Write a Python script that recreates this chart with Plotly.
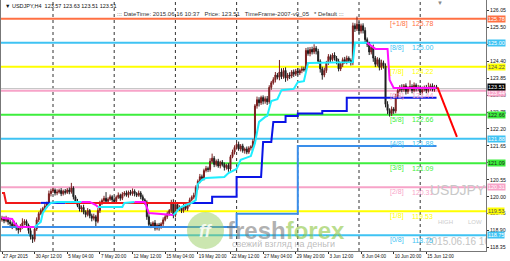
import plotly.graph_objects as go

# ---------------- data ----------------
first_open = 119.25
closes = [
    119.30, 119.22, 119.28, 119.18, 119.12, 119.05, 119.10, 118.98, 118.92, 119.02,
    119.15, 119.20, 119.08, 118.90, 118.70, 118.62, 118.95, 119.25, 119.45, 119.55,
    119.62, 119.70, 119.78, 120.10, 120.18, 120.22, 120.12, 120.15, 120.20, 120.10,
    120.18, 120.14, 120.22, 120.16, 120.28, 120.00, 119.85, 119.72, 119.60, 119.65,
    119.50, 119.42, 119.55, 119.38, 119.30, 119.35, 119.20, 119.55, 119.80, 119.88,
    119.95, 119.85, 119.92, 120.00, 119.90, 119.85, 119.98, 120.05, 119.95, 120.08,
    120.12, 120.05, 120.15, 120.10, 120.18, 120.10, 120.05, 120.12, 120.00, 119.90,
    119.82, 119.35, 119.10, 119.05, 119.15, 118.98, 119.08, 119.02, 119.12, 119.25,
    119.35, 119.45, 119.55, 119.80, 119.40, 119.75, 119.60, 119.65, 119.55, 119.70,
    119.62, 119.75, 119.90, 119.98, 120.05, 120.30, 120.50, 120.65, 120.60, 120.85,
    120.92, 120.88, 121.15, 121.25, 121.05, 121.15, 121.00, 121.12, 121.05, 120.95,
    121.02, 120.90, 121.30, 121.45, 121.60, 121.70, 121.55, 121.65, 121.50, 121.55,
    121.45, 121.58, 121.62, 121.80, 122.95, 123.15, 123.05, 123.22, 123.10, 123.18,
    123.08, 123.55, 123.70, 123.80, 123.95, 123.88, 124.05, 123.90, 124.10, 123.85,
    123.95, 123.92, 124.05, 123.98, 124.08, 124.02, 124.10, 124.15, 124.12, 124.75,
    124.65, 124.78, 124.70, 124.82, 124.72, 124.40, 124.15, 123.95, 124.10, 124.35,
    124.55, 124.45, 124.60, 124.50, 124.40, 124.15, 124.30, 124.45, 124.38, 124.50,
    124.42, 124.35, 125.55, 125.45, 125.60, 125.38, 125.55, 125.40, 125.10, 124.95,
    124.70, 124.85, 124.50, 124.30, 124.45, 124.20, 124.35, 124.25, 123.00, 122.80,
    122.70, 122.85, 122.78, 123.25, 123.45, 123.55, 123.48, 123.60, 123.42, 123.52,
    123.58, 123.45, 123.62, 123.50, 123.55, 123.40, 123.48, 123.55, 123.45, 123.52,
    123.60, 123.48, 123.57, 123.51,
]
up_wick = [
    0.08, 0.06, 0.10, 0.05, 0.07, 0.08, 0.12, 0.06, 0.05, 0.09,
    0.15, 0.07, 0.06, 0.05, 0.08, 0.06, 0.10, 0.08, 0.06, 0.07,
    0.05, 0.08, 0.06, 0.10, 0.08, 0.07, 0.05, 0.09, 0.06, 0.08,
    0.05, 0.07, 0.06, 0.08, 0.17, 0.06, 0.05, 0.08, 0.06, 0.07,
    0.09, 0.06, 0.08, 0.05, 0.07, 0.10, 0.06, 0.08, 0.07, 0.06,
    0.08, 0.20, 0.06, 0.07, 0.05, 0.08, 0.06, 0.09, 0.05, 0.07,
    0.06, 0.08, 0.05, 0.07, 0.09, 0.06, 0.05, 0.08, 0.06, 0.07,
    0.05, 0.06, 0.08, 0.07, 0.05, 0.09, 0.06, 0.07, 0.05, 0.08,
    0.06, 0.07, 0.05, 0.10, 0.12, 0.08, 0.06, 0.07, 0.05, 0.08,
    0.06, 0.05, 0.07, 0.06, 0.08, 0.07, 0.06, 0.09, 0.07, 0.06,
    0.08, 0.06, 0.10, 0.15, 0.07, 0.06, 0.08, 0.05, 0.07, 0.06,
    0.05, 0.07, 0.06, 0.08, 0.07, 0.05, 0.09, 0.06, 0.07, 0.05,
    0.08, 0.06, 0.05, 0.07, 0.06, 0.10, 0.08, 0.06, 0.07, 0.08,
    0.09, 0.07, 0.06, 0.08, 0.10, 0.07, 0.39, 0.12, 0.08, 0.10,
    0.07, 0.09, 0.06, 0.08, 0.07, 0.10, 0.06, 0.08, 0.07, 0.08,
    0.10, 0.08, 0.09, 0.13, 0.07, 0.08, 0.06, 0.07, 0.09, 0.06,
    0.08, 0.07, 0.06, 0.09, 0.07, 0.08, 0.06, 0.07, 0.09, 0.08,
    0.06, 0.07, 0.10, 0.08, 0.25, 0.09, 0.07, 0.08, 0.10, 0.07,
    0.08, 0.06, 0.09, 0.07, 0.08, 0.06, 0.10, 0.07, 0.08, 0.10,
    0.07, 0.08, 0.06, 0.09, 0.08, 0.07, 0.10, 0.06, 0.08, 0.07,
    0.20, 0.07, 0.09, 0.06, 0.08, 0.07, 0.10, 0.06, 0.08, 0.18,
    0.07, 0.08, 0.06, 0.06,
]
low_wick = [
    0.06, 0.08, 0.05, 0.09, 0.07, 0.10, 0.06, 0.08, 0.12, 0.07,
    0.06, 0.08, 0.07, 0.10, 0.09, 0.12, 0.08, 0.06, 0.07, 0.05,
    0.08, 0.06, 0.07, 0.05, 0.09, 0.06, 0.08, 0.07, 0.05, 0.08,
    0.06, 0.07, 0.05, 0.08, 0.06, 0.09, 0.07, 0.06, 0.08, 0.10,
    0.07, 0.09, 0.06, 0.08, 0.10, 0.07, 0.20, 0.06, 0.08, 0.07,
    0.06, 0.08, 0.07, 0.05, 0.09, 0.06, 0.07, 0.05, 0.08, 0.06,
    0.07, 0.05, 0.08, 0.06, 0.07, 0.09, 0.06, 0.05, 0.08, 0.07,
    0.08, 0.10, 0.09, 0.07, 0.06, 0.08, 0.07, 0.12, 0.06, 0.07,
    0.05, 0.07, 0.06, 0.08, 0.10, 0.07, 0.09, 0.06, 0.08, 0.07,
    0.06, 0.08, 0.07, 0.05, 0.06, 0.08, 0.07, 0.06, 0.09, 0.07,
    0.06, 0.08, 0.07, 0.06, 0.09, 0.07, 0.06, 0.08, 0.07, 0.10,
    0.07, 0.09, 0.06, 0.05, 0.08, 0.07, 0.06, 0.08, 0.07, 0.10,
    0.07, 0.06, 0.08, 0.05, 0.07, 0.09, 0.12, 0.07, 0.10, 0.08,
    0.10, 0.07, 0.08, 0.06, 0.09, 0.07, 0.10, 0.08, 0.07, 0.12,
    0.08, 0.10, 0.07, 0.09, 0.06, 0.08, 0.07, 0.09, 0.06, 0.08,
    0.07, 0.09, 0.08, 0.07, 0.10, 0.08, 0.12, 0.15, 0.07, 0.08,
    0.07, 0.09, 0.06, 0.08, 0.10, 0.08, 0.07, 0.09, 0.06, 0.08,
    0.07, 0.09, 0.08, 0.10, 0.07, 0.09, 0.08, 0.10, 0.12, 0.09,
    0.10, 0.08, 0.12, 0.09, 0.07, 0.10, 0.08, 0.09, 0.10, 0.12,
    0.10, 0.08, 0.09, 0.07, 0.08, 0.06, 0.09, 0.07, 0.10, 0.08,
    0.07, 0.09, 0.06, 0.08, 0.07, 0.10, 0.08, 0.06, 0.09, 0.07,
    0.08, 0.06, 0.07, 0.00,
]

x_label_bars = [0, 16, 32, 48, 64, 80, 96, 112, 128, 144, 160, 176, 192, 208]
x_labels = ["27 Apr 2015", "30 Apr 12:00", "5 May 04:00", "7 May 20:00",
            "12 May 12:00", "15 May 04:00", "19 May 20:00", "22 May 12:00",
            "27 May 04:00", "29 May 20:00", "3 Jun 12:00", "8 Jun 04:00",
            "10 Jun 20:00", "15 Jun 12:00"]
y_ticks = [126.05, 125.50, 124.95, 124.40, 123.85, 123.30, 122.75, 122.20,
           121.65, 121.10, 120.55, 120.00, 119.45, 118.90, 118.35]
y_tick_hidden = [124.95, 121.10]   # covered by level boxes in the original
grid_bars = [25, 55, 85, 115, 145, 175, 205]

murrey_names = ["[+1/8]", "[8/8]", "[7/8]", "[6/8]", "[5/8]",
                "[4/8]", "[3/8]", "[2/8]", "[1/8]", "[0/8]"]
murrey_values = [125.78, 125.00, 124.22, 123.44, 122.66,
                 121.88, 121.09, 120.31, 119.53, 118.75]

# fast trailing line (1 = up/cyan, 0 = down/magenta), flag = colour of segment ending at vertex
fast_bars = [0, 5, 6, 8, 16,
             19, 20, 22, 24, 27, 39,
             43, 46, 47,
             59, 60, 65,
             70, 72, 84,
             85, 87, 90, 93, 95, 96, 98, 100, 109, 111, 115, 117, 122, 124, 126, 129,
             130, 132, 135, 137, 143, 145, 148, 150, 172, 173, 179,
             183, 189, 190, 192, 213]
fast_prices = [119.31, 119.28, 119.15, 119.02, 119.02,
               119.18, 119.47, 119.67, 119.80, 119.83, 119.83,
               119.83, 119.73, 119.67,
               119.67, 119.80, 119.83,
               119.83, 119.47, 119.41,
               119.47, 119.63, 119.73, 119.80, 119.89, 120.41, 120.54, 120.61, 120.64,
               120.77, 120.90, 121.20, 121.32, 121.74, 122.43, 122.59,
               122.62, 123.11, 123.17, 123.46, 123.50, 123.72, 123.75, 124.34, 124.37,
               125.00, 125.00,
               124.80, 124.80, 123.79, 123.53, 123.53]
fast_up = [0, 0, 0, 0, 0,
           1, 1, 1, 1, 1, 1,
           0, 0, 0,
           1, 1, 1,
           0, 0, 0,
           1, 1, 1, 1, 1, 1, 1, 1, 1, 1, 1, 1, 1, 1, 1, 1,
           1, 1, 1, 1, 1, 1, 1, 1, 1, 1, 1,
           0, 0, 0, 0, 0]

# slow trailing line (1 = up/blue, 0 = down/red)
slow_bars = [0, 1, 2, 19, 31, 93, 103, 103, 115, 115, 127, 128, 132, 133, 139, 139,
             145, 145, 157, 157, 169, 169, 213]
slow_prices = [120.12, 120.12, 119.80, 119.80, 119.80, 119.80, 119.80, 120.00, 120.00,
               120.64, 120.64, 121.78, 121.78, 122.43, 122.43, 122.62, 122.62, 122.70,
               122.70, 122.78, 122.78, 123.21, 123.21]
slow_up = [0, 0, 0, 0, 1, 0, 1, 1, 1, 1, 1, 1, 1, 1, 1, 1, 1, 1, 1, 1, 1, 1, 1]

# support line (dodger blue)
mid_bars = [0, 115, 115, 145, 145, 213]
mid_prices = [119.02, 119.02, 119.45, 119.45, 121.65, 121.65]

# forecast arrow
arrow_bars = [213.5, 223]
arrow_prices = [123.55, 121.94]

# ---------------- styling ----------------
FONT = "Liberation Sans"
murrey_colors = ["#FF7043", "#3FC3F3", "#FFFF00", "#F7A3C8", "#3DEE3D",
                 "#3FC3F3", "#3DEE3D", "#F7A3C8", "#FFFF00", "#3FC3F3"]
murrey_box_text = ["white", "white", "#555555", "white", "#222222",
                   "white", "#222222", "white", "#555555", "white"]
CYAN, MAGENTA = "#1EEEFF", "#FF10FF"
BLUE, RED = "#0A14E6", "#F01818"
MIDBLUE = "#3A8EEA"

W, H = 510, 261
ML, MR, MT, MB = 1, 24, 0, 10
PX_PER_BAR = 2.04
BAR0_PX = 2.0
plot_w = W - ML - MR
x_range = [(ML - BAR0_PX) / PX_PER_BAR, (W - MR - BAR0_PX) / PX_PER_BAR]
y_range = [118.238, 126.387]


def px(x):  # pixel -> paper x
    return (x - ML) / plot_w


def py(y):  # pixel -> paper y
    return 1 - (y - MT) / (H - MT - MB)


opens = [first_open] + closes[:-1]
highs = [round(max(o, c) + w, 2) for o, c, w in zip(opens, closes, up_wick)]
lows = [round(min(o, c) - w, 2) for o, c, w in zip(opens, closes, low_wick)]
bars = list(range(len(closes)))

fig = go.Figure()

fig.add_trace(go.Candlestick(
    x=bars, open=opens, high=highs, low=lows, close=closes,
    increasing=dict(line=dict(color="#7a1f1f", width=1), fillcolor="#7a1f1f"),
    decreasing=dict(line=dict(color="#1e1e1e", width=1), fillcolor="#1e1e1e"),
    whiskerwidth=0, showlegend=False, hoverinfo="skip"))


def add_colored_path(xs, ys, flags, col_up, col_dn, width):
    seg_x, seg_y, cur = [xs[0]], [ys[0]], flags[1]
    for i in range(1, len(xs)):
        if flags[i] != cur:
            fig.add_trace(go.Scatter(x=seg_x, y=seg_y, mode="lines",
                                     line=dict(color=col_up if cur else col_dn, width=width),
                                     showlegend=False, hoverinfo="skip"))
            seg_x, seg_y, cur = [xs[i - 1]], [ys[i - 1]], flags[i]
        seg_x.append(xs[i])
        seg_y.append(ys[i])
    fig.add_trace(go.Scatter(x=seg_x, y=seg_y, mode="lines",
                             line=dict(color=col_up if cur else col_dn, width=width),
                             showlegend=False, hoverinfo="skip"))


fig.add_trace(go.Scatter(x=mid_bars, y=mid_prices, mode="lines",
                         line=dict(color=MIDBLUE, width=2), showlegend=False, hoverinfo="skip"))
add_colored_path(slow_bars, slow_prices, slow_up, BLUE, RED, 2)
add_colored_path(fast_bars, fast_prices, fast_up, CYAN, MAGENTA, 2)
fig.add_trace(go.Scatter(x=arrow_bars, y=arrow_prices, mode="lines",
                         line=dict(color="#FF0000", width=2), showlegend=False,
                         hoverinfo="skip", cliponaxis=False))

# clipped watermark date
fig.add_trace(go.Scatter(x=[(426 - BAR0_PX) / PX_PER_BAR], y=[118.53], mode="text",
                         text=["2015.06.16 10:37"], textposition="middle right",
                         textfont=dict(family=FONT, size=10, color="#c4c4c4"),
                         showlegend=False, hoverinfo="skip", cliponaxis=True))

shapes = []
for gb in grid_bars:
    shapes.append(dict(type="line", xref="x", yref="paper", x0=gb, x1=gb, y0=0, y1=1,
                       line=dict(color="#333333", width=1, dash="dot"), layer="below"))
for v, c in zip(murrey_values, murrey_colors):
    shapes.append(dict(type="line", xref="paper", yref="y", x0=0, x1=1, y0=v, y1=v,
                       line=dict(color=c, width=2), layer="below"))
shapes.append(dict(type="line", xref="paper", yref="y", x0=0, x1=1,
                   y0=closes[-1], y1=closes[-1],
                   line=dict(color="#c0c0c0", width=1), layer="below"))
# freshforex logo circle
shapes.append(dict(type="circle", xref="paper", yref="paper",
                   x0=px(187), x1=px(224), y0=py(249), y1=py(212),
                   fillcolor="rgba(140,200,80,0.45)", line=dict(width=0), layer="above"))

ann = []
LABEL_BAR, VALUE_BAR = 189, 200
for name, v, c in zip(murrey_names, murrey_values, murrey_colors):
    ann.append(dict(x=LABEL_BAR, y=v, xref="x", yref="y", text=name, showarrow=False,
                    xanchor="left", yanchor="middle", yshift=-5,
                    font=dict(family=FONT, size=7, color=c)))
    ann.append(dict(x=VALUE_BAR, y=v, xref="x", yref="y", text=f"{v:.2f}", showarrow=False,
                    xanchor="left", yanchor="middle", yshift=-5,
                    font=dict(family=FONT, size=7, color=c)))
# right-axis price boxes
for v, c, tc in zip(murrey_values, murrey_colors, murrey_box_text):
    shift = -2 if v == 123.44 else 0
    ann.append(dict(x=1, y=v, xref="paper", yref="y", text=f"{v:.2f}", showarrow=False,
                    xanchor="left", yanchor="middle", xshift=1, yshift=shift,
                    bgcolor=c, borderpad=0,
                    font=dict(family=FONT, size=5.5, color=tc)))
ann.append(dict(x=1, y=closes[-1], xref="paper", yref="y", text=f"{closes[-1]:.2f}",
                showarrow=False, xanchor="left", yanchor="middle", xshift=1, yshift=2,
                bgcolor="#000000", borderpad=0, font=dict(family=FONT, size=5.5, color="white")))

NB = "\u00a0"
info1 = f"\u25BC USDJPY,H4{NB*2}{opens[-1]:.2f} {highs[-1]:.2f} {lows[-1]:.2f} {closes[-1]:.2f}"
info2 = (f"::: DateTime: 2015.06.16 10:37{NB*3}Price: {closes[-1]:.2f}{NB*3}"
         f"TimeFrame-2007-v0_05{NB*3}* Default :::")
ann.append(dict(x=px(3), y=py(6), xref="paper", yref="paper", text=info1, showarrow=False,
                xanchor="left", yanchor="middle", font=dict(family=FONT, size=5.5, color="#111111")))
ann.append(dict(x=px(115), y=py(14), xref="paper", yref="paper", text=info2, showarrow=False,
                xanchor="left", yanchor="middle", font=dict(family=FONT, size=6, color="#333333")))
ann.append(dict(x=px(440), y=py(3), xref="paper", yref="paper", text="\u25BC", showarrow=False,
                xanchor="center", yanchor="middle", font=dict(family=FONT, size=6, color="#888888")))
# watermark texts
ann.append(dict(x=px(428), y=py(190), xref="paper", yref="paper", text="USDJPY", showarrow=False,
                xanchor="left", yanchor="middle", font=dict(family=FONT, size=14, color="#c8c8c8")))
ann.append(dict(x=px(436), y=py(222), xref="paper", yref="paper", text="HIGH", showarrow=False,
                xanchor="left", yanchor="middle", font=dict(family=FONT, size=6, color="#cccccc")))
ann.append(dict(x=px(466), y=py(222), xref="paper", yref="paper", text="LOW", showarrow=False,
                xanchor="left", yanchor="middle", font=dict(family=FONT, size=6, color="#cccccc")))
ann.append(dict(x=px(205.5), y=py(231), xref="paper", yref="paper", text="<b><i>ff</i></b>",
                showarrow=False, xanchor="center", yanchor="middle",
                font=dict(family=FONT, size=18, color="rgba(255,255,255,0.85)")))
ann.append(dict(x=px(225), y=py(230), xref="paper", yref="paper",
                text="<b><span style='color:rgba(110,110,110,0.55)'>fresh</span>"
                     "<span style='color:rgba(140,198,63,0.6)'>forex</span></b>",
                showarrow=False, xanchor="left", yanchor="middle",
                font=dict(family=FONT, size=24)))
ann.append(dict(x=px(230), y=py(244), xref="paper", yref="paper",
                text="свежий взгляд на деньги", showarrow=False, xanchor="left", yanchor="middle",
                font=dict(family=FONT, size=9, color="rgba(130,130,130,0.55)")))

fig.update_layout(
    width=W, height=H, margin=dict(l=ML, r=MR, t=MT, b=MB, autoexpand=False),
    paper_bgcolor="white", plot_bgcolor="white", showlegend=False,
    shapes=shapes, annotations=ann,
    xaxis=dict(range=x_range, rangeslider=dict(visible=False), showgrid=False, zeroline=False,
               automargin=False, tickangle=0,
               tickvals=x_label_bars, ticktext=x_labels, ticks="outside", ticklen=2,
               tickcolor="#333333", ticklabelposition="outside right",
               tickfont=dict(family=FONT, size=4.6, color="#111111"),
               showline=True, linecolor="#777777", linewidth=1, mirror=False),
    yaxis=dict(range=y_range, side="right", showgrid=False, zeroline=False, automargin=False,
               tickvals=y_ticks,
               ticktext=["" if t in y_tick_hidden else f"{t:.2f}" for t in y_ticks],
               ticks="outside", ticklen=2, tickcolor="#333333",
               tickfont=dict(family=FONT, size=5.2, color="#111111"),
               showline=True, linecolor="#777777", linewidth=1, mirror=True),
)

fig.write_html("out.html")
